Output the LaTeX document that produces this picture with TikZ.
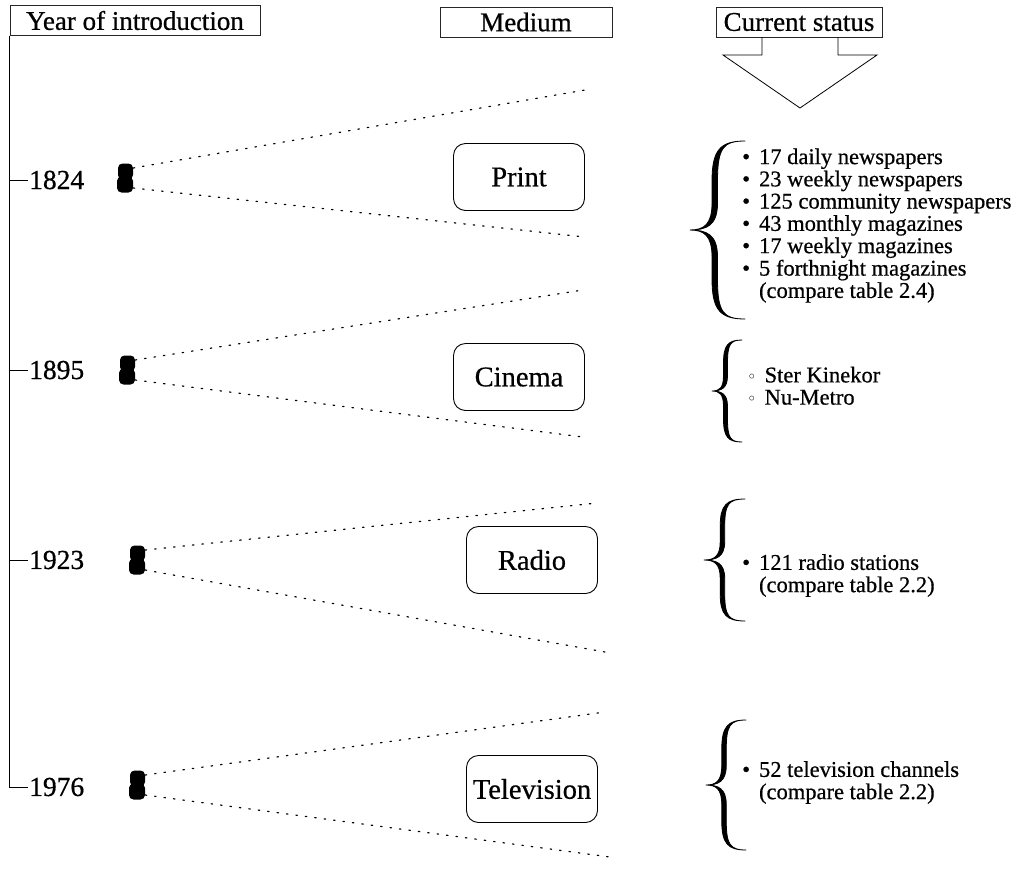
\documentclass[tikz,border=0pt]{standalone}
\usepackage{fontspec}
\setmainfont{Liberation Serif}[FakeBold=0.6]
\newfontfamily\symfont{DejaVu Sans}
\usetikzlibrary{calc}

% Tapered curly brace: tip x, centre y, width, half height, stroke thickness
\newcommand\curlybrace[5]{%
  \pgfmathsetmacro\bxt{#1}\pgfmathsetmacro\byc{#2}%
  \pgfmathsetmacro\bw{#3}\pgfmathsetmacro\bh{#4}%
  \pgfmathsetmacro\bxe{\bxt+\bw}%
  \pgfmathsetmacro\bxo{\bxt+0.45*\bw-#5/2}%
  \pgfmathsetmacro\bxi{\bxt+0.45*\bw+#5/2}%
  \pgfmathsetmacro\bya{\byc-\bh}\pgfmathsetmacro\byb{\byc+\bh}%
  \pgfmathsetmacro\byu{\byc-0.55*\bh}\pgfmathsetmacro\byv{\byc-0.3*\bh}%
  \pgfmathsetmacro\byw{\byc+0.3*\bh}\pgfmathsetmacro\byz{\byc+0.55*\bh}%
  \filldraw[line width=0.8pt, line join=round]
    (\bxe,\bya) .. controls ({\bxo+0.15*\bw},\bya) and (\bxo,{\bya+0.1*\bh}) .. (\bxo,\byu)
    -- (\bxo,\byv) .. controls (\bxo,{\byc-0.06*\bh}) and ({\bxt+0.25*\bw},\byc) .. (\bxt,\byc)
    .. controls ({\bxt+0.25*\bw},\byc) and (\bxo,{\byc+0.06*\bh}) .. (\bxo,\byw)
    -- (\bxo,\byz) .. controls (\bxo,{\byb-0.1*\bh}) and ({\bxo+0.15*\bw},\byb) .. (\bxe,\byb)
    .. controls ({\bxi+0.1*\bw},\byb) and (\bxi,{\byb-0.08*\bh}) .. (\bxi,\byz)
    -- (\bxi,\byw) .. controls (\bxi,{\byc+0.05*\bh}) and ({\bxt+0.3*\bw},\byc) .. (\bxt,\byc)
    .. controls ({\bxt+0.3*\bw},\byc) and (\bxi,{\byc-0.05*\bh}) .. (\bxi,\byv)
    -- (\bxi,\byu) .. controls (\bxi,{\bya+0.08*\bh}) and ({\bxi+0.1*\bw},\bya) .. (\bxe,\bya) -- cycle;
}

\tikzset{
  header/.style={draw=black!85, line width=0.6pt, inner sep=0pt, minimum height=30pt,
    font=\fontsize{27}{30}\selectfont},
  medium/.style={draw, line width=0.9pt, rounded corners=12pt, inner sep=0pt,
    minimum width=131pt, minimum height=67pt, font=\fontsize{28.5}{30}\selectfont},
  year/.style={anchor=west, inner sep=1pt, font=\fontsize{27.5}{28}\selectfont},
  reel/.style={inner sep=0pt, minimum width=16pt, minimum height=29pt,
    path picture={
      \fill[rounded corners=4.5pt] ([xshift=1pt]path picture bounding box.north west)
        rectangle ([yshift=-1.5pt]path picture bounding box.east);
      \fill[rounded corners=4.5pt] ([yshift=1.5pt]path picture bounding box.west)
        rectangle (path picture bounding box.south east);
    }},
  link/.style={line width=1.2pt, dash pattern=on 1.5pt off 8pt, line cap=round},
  status/.style={anchor=west, inner sep=0pt, font=\fontsize{22.5}{22.2}\selectfont},
}

\begin{document}
\begin{tikzpicture}[x=1pt, y=-1pt]
\useasboundingbox (0,0) rectangle (1022,873);

% column headers
\node[header, minimum width=250pt] (yearbox) at (135,20.5) {Year of introduction};
\node[header, minimum width=172pt] (mediumbox) at (526,22) {Medium\hspace{26pt}};
\node[header, minimum width=166pt] (statusbox) at (799,22) {Current status};

% hollow arrow below "Current status"
\coordinate (sl) at (762,37);
\coordinate (sr) at (838,37);
\draw[line width=0.8pt] (sl) -- (762,55) -- (723,55) -- (800,108) -- (877,55) -- (838,55) -- (sr);

% years on the time line
\node[year] (yr1824) at (28,180) {1824};
\node[year] (yr1895) at (28,370) {1895};
\node[year] (yr1923) at (28,560) {1923};
\node[year] (yr1976) at (28,787) {1976};
\draw[line width=0.8pt] (yearbox.south west) |- (yr1824.west);
\draw[line width=0.8pt] (yearbox.south west) |- (yr1895.west);
\draw[line width=0.8pt] (yearbox.south west) |- (yr1923.west);
\draw[line width=0.8pt] (yearbox.south west) |- (yr1976.west);

% film reel icons
\node[reel] (r1824) at (125,178) {};
\node[reel] (r1895) at (127,370) {};
\node[reel] (r1923) at (137,560) {};
\node[reel] (r1976) at (137,785) {};

% media
\node[medium] (print)  at (519,177) {Print};
\node[medium] (cinema) at (519,377) {Cinema};
\node[medium] (radio)  at (532,560) {Radio};
\node[medium] (tv)     at (532,789) {Television};

% ends of the dotted fans
\coordinate (p1) at (585,90);  \coordinate (p2) at (585,237);
\coordinate (c1) at (583,290); \coordinate (c2) at (583,437);
\coordinate (d1) at (597,503); \coordinate (d2) at (605,652);
\coordinate (t1) at (605,712); \coordinate (t2) at (610,857);

\draw[link] ([yshift=10pt]r1824.east) -- (p1);
\draw[link] ([yshift=-10pt]r1824.east) -- (p2);
\draw[link] ([yshift=10pt]r1895.east) -- (c1);
\draw[link] ([yshift=-10pt]r1895.east) -- (c2);
\draw[link] ([yshift=10pt]r1923.east) -- (d1);
\draw[link] ([yshift=-10pt]r1923.east) -- (d2);
\draw[link] ([yshift=10pt]r1976.east) -- (t1);
\draw[link] ([yshift=-10pt]r1976.east) -- (t2);

% braces
\curlybrace{690}{230}{55}{89}{5.5}
\curlybrace{712}{391}{30}{51}{4}
\curlybrace{704}{560}{41}{61}{4.5}
\curlybrace{706}{785}{40}{65}{4.5}

% current status lists
\node[status] (printlist) at (742,226.5) {%
  \begin{tabular}{@{}l@{\hspace{9pt}}l@{}}
  \textbullet & 17 daily newspapers\\
  \textbullet & 23 weekly newspapers\\
  \textbullet & 125 community newspapers\\
  \textbullet & 43 monthly magazines\\
  \textbullet & 17 weekly magazines\\
  \textbullet & 5 forthnight magazines\\
   & (compare table 2.4)
  \end{tabular}};
\node[status] (cinemalist) at (747,389) {%
  \begin{tabular}{@{}l@{\hspace{8pt}}l@{}}
  {\symfont\fontsize{16}{16}\selectfont ◦} & Ster Kinekor\\
  {\symfont\fontsize{16}{16}\selectfont ◦} & Nu-Metro
  \end{tabular}};
\node[status] (radiolist) at (742,576.5) {%
  \begin{tabular}{@{}l@{\hspace{9pt}}l@{}}
  \textbullet & 121 radio stations\\
   & (compare table 2.2)
  \end{tabular}};
\node[status] (tvlist) at (742,783.5) {%
  \begin{tabular}{@{}l@{\hspace{9pt}}l@{}}
  \textbullet & 52 television channels\\
   & (compare table 2.2)
  \end{tabular}};
\end{tikzpicture}
\end{document}
